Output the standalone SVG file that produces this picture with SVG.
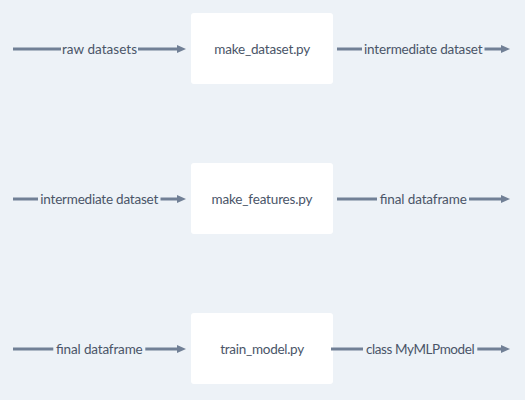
<svg xmlns="http://www.w3.org/2000/svg" width="525" height="400" viewBox="0 0 525 400">
<style>
.node rect{fill:#ffffff;}
.node text,.lbl{font-family:Lato,"Noto Sans","Liberation Sans",sans-serif;font-size:13.5px;fill:#4a5568;text-anchor:middle;}
.edge line{stroke:#718096;stroke-width:3;}
.edge path{fill:#718096;}
</style>
<rect width="525" height="400" fill="#edf2f7"/>
<g id="make_dataset" class="node"><rect x="191" y="13" width="142" height="71" rx="3"/><text x="262.3" y="53.5" textLength="96">make_dataset.py</text></g>
<g id="make_features" class="node"><rect x="191" y="163" width="142" height="71" rx="3"/><text x="262" y="203.5" textLength="101">make_features.py</text></g>
<g id="train_model" class="node"><rect x="191" y="313" width="142" height="71" rx="3"/><text x="262.2" y="353.5" textLength="84">train_model.py</text></g>
<g id="connectors">
<g class="edge"><line x1="13" y1="49" x2="61" y2="49"/><line x1="138" y1="49" x2="180" y2="49"/><path d="M177,45 L186,49 L177,53 Z"/><text class="lbl" x="99.5" y="53.5" textLength="75">raw datasets</text></g>
<g class="edge"><line x1="337" y1="49" x2="362" y2="49"/><line x1="484.5" y1="49" x2="504" y2="49"/><path d="M501,45 L510,49 L501,53 Z"/><text class="lbl" x="423.3" y="53.5" textLength="118.5">intermediate dataset</text></g>
<g class="edge"><line x1="13" y1="199" x2="38" y2="199"/><line x1="160.5" y1="199" x2="180" y2="199"/><path d="M177,195 L186,199 L177,203 Z"/><text class="lbl" x="99.3" y="203.5" textLength="118">intermediate dataset</text></g>
<g class="edge"><line x1="337" y1="199" x2="377" y2="199"/><line x1="469" y1="199" x2="504" y2="199"/><path d="M501,195 L510,199 L501,203 Z"/><text class="lbl" x="423.2" y="203.5" textLength="87">final dataframe</text></g>
<g class="edge"><line x1="13" y1="349" x2="53.3" y2="349"/><line x1="145.3" y1="349" x2="180" y2="349"/><path d="M177,345 L186,349 L177,353 Z"/><text class="lbl" x="99.3" y="353.5" textLength="86.7">final dataframe</text></g>
<g class="edge"><line x1="331" y1="349" x2="363" y2="349"/><line x1="477.3" y1="349" x2="504" y2="349"/><path d="M501,345 L510,349 L501,353 Z"/><text class="lbl" x="420.3" y="353.5" textLength="108.7">class MyMLPmodel</text></g>
</g>
</svg>
